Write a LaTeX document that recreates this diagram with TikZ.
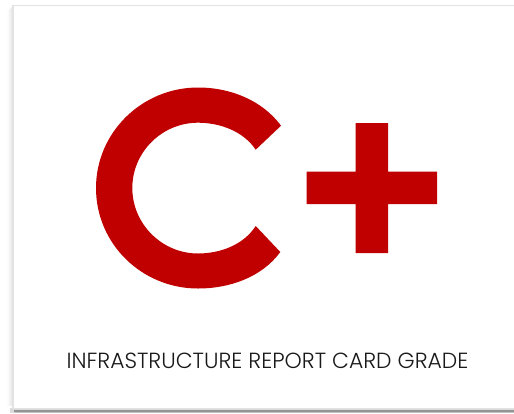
\documentclass[tikz,border=0pt]{standalone}
\usepackage{fontspec}
\setmainfont{Poppins Light}
\definecolor{gradered}{RGB}{192,0,0}
\tikzset{
  cardedge/.style={fill=black!11,draw=none},
  cardface/.style={fill=white,draw=none},
  gradeshape/.style={fill=gradered,draw=none},
  caption/.style={text=black!90,inner sep=0pt,anchor=center}
}
\begin{document}
\begin{tikzpicture}[x=1pt,y=-1pt]
\useasboundingbox (0,0) rectangle (514,413);
\fill[white] (0,0) rectangle (514,413);
% soft shadow on the left
\foreach \i/\c in {5/1,4/2,3/4,2/6,1/8}{
  \fill[black!\c] ({12-\i},{6+\i}) rectangle (514,406);
}
% soft shadow along the bottom
\fill[black!14] (10,408) rectangle (514,413);
\fill[black!42] (14,409.5) rectangle (514,412);
\fill[black!24] (15,412) rectangle (514,413);
\fill[cardedge] (12,4.5) rectangle (514,409);
\fill[cardface] (14,6) rectangle (514,407.5);
% C
\fill[gradeshape] (281,125.7)
  .. controls (262,100) and (230,87.5) .. (198,87.5)
  .. controls (142,87.5) and (96,132.5) .. (96,188)
  .. controls (96,244) and (142,288.5) .. (198,288.5)
  .. controls (230,288.5) and (262,277) .. (280.3,252)
  -- (255.7,226)
  .. controls (243.5,245) and (220,253.5) .. (198,253.5)
  .. controls (162,253.5) and (132.3,224) .. (132.3,188)
  .. controls (132.3,152) and (162,122.7) .. (198,122.7)
  .. controls (220,122.7) and (243.5,131.3) .. (255.7,149.7)
  -- cycle;
% plus
\fill[gradeshape] (355.5,123) -- (388,123) -- (388,171.5) -- (437,171.5) -- (437,204) -- (388,204) -- (388,253) -- (355.5,253) -- (355.5,204) -- (306.5,204) -- (306.5,171.5) -- (355.5,171.5) -- cycle;
\node[caption] (label) at (267.5,361) {\fontsize{21.9pt}{24pt}\selectfont INFRASTRUCTURE REPORT CARD GRADE};
\end{tikzpicture}
\end{document}
